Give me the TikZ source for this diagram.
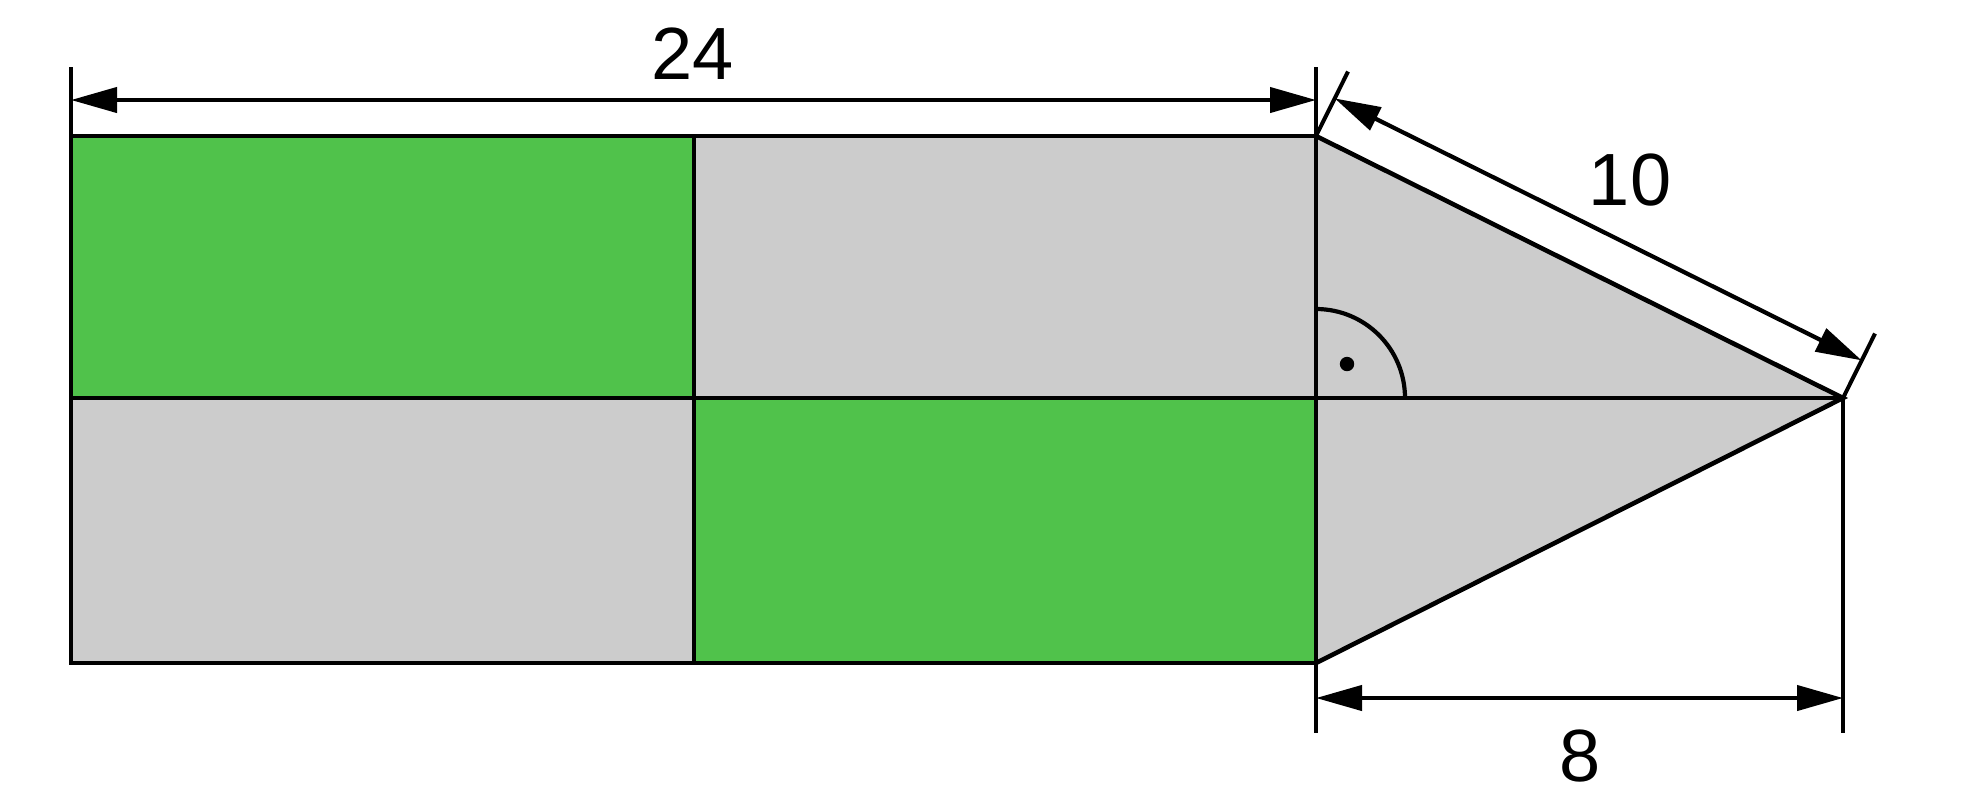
\documentclass[tikz,border=0pt]{standalone}
\usepackage{fontspec}
\setmainfont{Liberation Sans}
\usetikzlibrary{arrows.meta,calc}
\definecolor{figgreen}{RGB}{80,194,75}
\definecolor{figgray}{RGB}{204,204,204}
\tikzset{
  edge/.style={line width=2.3pt,line join=miter},
  extline/.style={line width=2pt},
  dimline/.style={line width=2.1pt,{Triangle[length=23pt,width=12.5pt]}-{Triangle[length=23pt,width=12.5pt]}},
  dimlabel/.style={inner sep=0pt,font=\fontsize{37}{44}\selectfont},
}
\begin{document}
\begin{tikzpicture}[x=0.5pt,y=-0.5pt]
\fill[white] (0,0) rectangle (1966,800);
\path[use as bounding box] (0,0) rectangle (1966,800);
% corner points
\coordinate (A) at (71,136);
\coordinate (B) at (694,136);
\coordinate (C) at (1316,136);
\coordinate (D) at (71,398);
\coordinate (E) at (694,398);
\coordinate (F) at (1316,398);
\coordinate (G) at (71,663);
\coordinate (H) at (694,663);
\coordinate (I) at (1316,663);
\coordinate (T) at (1843,398);
% fills
\fill[figgreen] (A) rectangle (E);
\fill[figgray] (B) rectangle (F);
\fill[figgray] (D) rectangle (H);
\fill[figgreen] (E) rectangle (I);
\fill[figgray] (C) -- (T) -- (I) -- cycle;
% right angle mark
\draw[line width=2.1pt] ([shift={(44.5pt,0pt)}]F) arc[start angle=0,end angle=90,radius=44.5pt];
\fill (1347,364) circle[radius=3.6pt];
% outlines
\draw[edge] (A) rectangle (I);
\draw[edge] (B) -- (H);
\draw[edge] (D) -- (T);
\draw[edge] (C) -- (T) -- (I);
\draw[edge] (C) -- (I);
% extension lines
\coordinate (A0) at (71,67);
\coordinate (C0) at (1316,67);
\coordinate (I0) at (1316,733);
\coordinate (T0) at (1843,733);
\draw[extline] (A0) -- (A);
\draw[extline] (C0) -- (C);
\draw[extline] (I) -- (I0);
\draw[extline] (T) -- (T0);
\coordinate (Cs) at ($(C)!36pt!90:(T)$);
\coordinate (Ts) at ($(T)!36pt!-90:(C)$);
\draw[extline] (C) -- (Cs);
\draw[extline] (T) -- (Ts);
% dimension lines
\coordinate (d24a) at (71,100);
\coordinate (d24b) at (1316,100);
\draw[dimline] (d24a) -- (d24b);
\coordinate (d8a) at (1316,698);
\coordinate (d8b) at (1843,698);
\draw[dimline] (d8a) -- (d8b);
\coordinate (d10a) at ($(C)!21pt!90:(T)$);
\coordinate (d10b) at ($(T)!21pt!-90:(C)$);
\draw[dimline] (d10a) -- (d10b);
% labels
\node[dimlabel] (l24) at (693,54) {24};
\node[dimlabel] (l10) at (1630,180) {10};
\node[dimlabel] (l8) at (1580,756) {8};
\end{tikzpicture}
\end{document}
